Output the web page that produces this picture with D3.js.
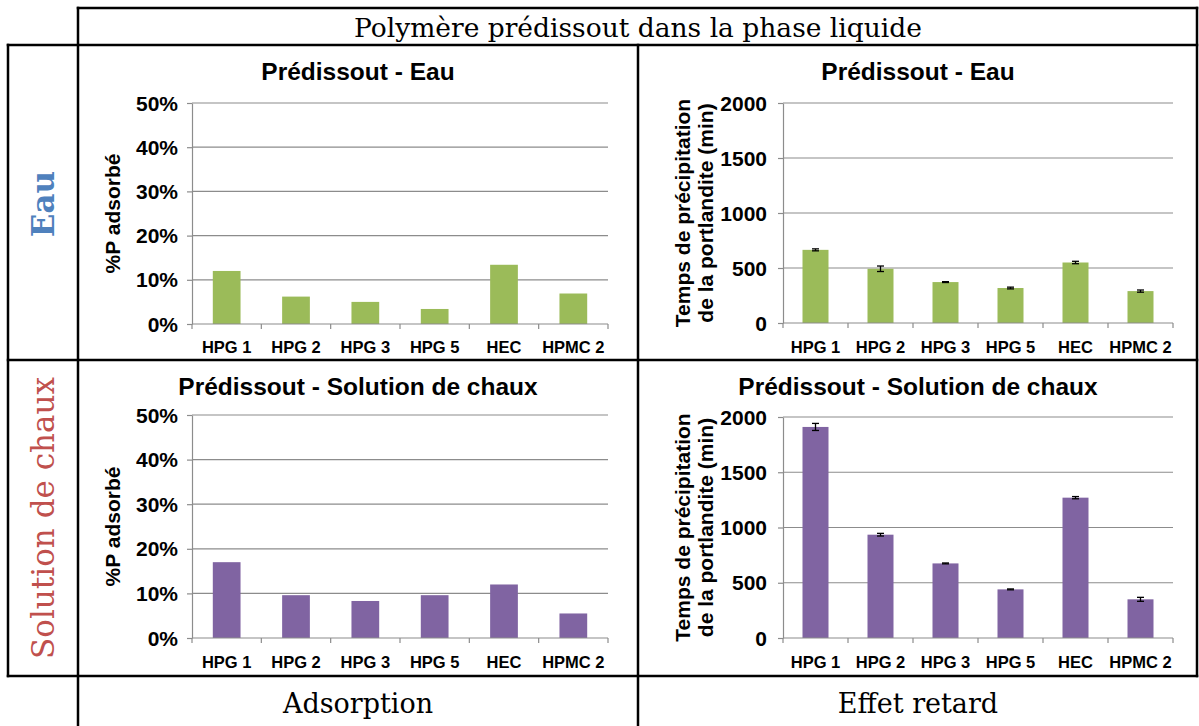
<!DOCTYPE html>
<html><head><meta charset="utf-8">
<script src="https://cdn.jsdelivr.net/npm/d3@7"></script>
<style>body{margin:0;background:#fff}svg{display:block}</style>
</head><body>
<svg id="c" width="1199" height="726"></svg>
<script>
const categories = ["HPG 1","HPG 2","HPG 3","HPG 5","HEC","HPMC 2"];
const adsorptionEau = [0.120,0.062,0.050,0.034,0.134,0.069];
const adsorptionChaux = [0.170,0.096,0.083,0.096,0.120,0.055];
const retardEau = [665,493,372,318,550,290];
const retardEauErr = [9,25,4,8,11,10];
const retardChaux = [1910,935,675,440,1270,350];
const retardChauxErr = [32,12,4,4,10,18];
const pctTicks = [0,0.1,0.2,0.3,0.4,0.5];
const minTicks = [0,500,1000,1500,2000];
const headerText = "Polymère prédissout dans la phase liquide";
const rowLabels = ["Eau","Solution de chaux"];
const colLabels = ["Adsorption","Effet retard"];

const svg = d3.select("#c");
const SANS = "'Liberation Sans', Arial, sans-serif";
const SERIF = "'DejaVu Serif', serif";
const green = "#9BBB59", purple = "#8064A2", grid = "#8c8c8c";

const panels = [
  {l:192,r:608,t:103,b:324,ty:80,vals:adsorptionEau,err:null,dom:[0,0.5],ticks:pctTicks,fmt:d3.format(".0%"),color:green,title:"Prédissout - Eau",ylab:["%P adsorbé"],ylx:[120],lx:178,xly:353},
  {l:783,r:1173,t:103,b:323,ty:80,vals:retardEau,err:retardEauErr,dom:[0,2000],ticks:minTicks,fmt:d3.format("d"),color:green,title:"Prédissout - Eau",ylab:["Temps de précipitation","de la portlandite (min)"],ylx:[690,713],lx:767,xly:353},
  {l:192,r:608,t:415,b:638,ty:395,vals:adsorptionChaux,err:null,dom:[0,0.5],ticks:pctTicks,fmt:d3.format(".0%"),color:purple,title:"Prédissout - Solution de chaux",ylab:["%P adsorbé"],ylx:[120],lx:178,xly:668},
  {l:783,r:1173,t:417,b:638,ty:395,vals:retardChaux,err:retardChauxErr,dom:[0,2000],ticks:minTicks,fmt:d3.format("d"),color:purple,title:"Prédissout - Solution de chaux",ylab:["Temps de précipitation","de la portlandite (min)"],ylx:[690,713],lx:767,xly:668}
];

panels.forEach(p=>{
  const g = svg.append("g");
  const x = d3.scaleBand().domain(categories).range([p.l,p.r]).paddingInner(0.6).paddingOuter(0.3);
  const xb = d3.scaleBand().domain(categories).range([p.l,p.r]);
  const y = d3.scaleLinear().domain(p.dom).range([p.b,p.t]);
  g.selectAll(".gl").data(p.ticks.slice(1)).join("line")
    .attr("x1",p.l).attr("x2",p.r).attr("y1",d=>y(d)).attr("y2",d=>y(d))
    .attr("stroke",grid).attr("stroke-width",1.2);
  g.selectAll(".bar").data(p.vals).join("rect")
    .attr("x",(d,i)=>x(categories[i])).attr("width",x.bandwidth())
    .attr("y",d=>y(d)).attr("height",d=>y(0)-y(d)).attr("fill",p.color);
  if(p.err){
    p.vals.forEach((v,i)=>{
      const cx = x(categories[i])+x.bandwidth()/2, e=p.err[i];
      g.append("line").attr("x1",cx).attr("x2",cx).attr("y1",y(v+e)).attr("y2",y(v-e)).attr("stroke","#000").attr("stroke-width",1.3);
      [v+e,v-e].forEach(w=>g.append("line").attr("x1",cx-3.5).attr("x2",cx+3.5).attr("y1",y(w)).attr("y2",y(w)).attr("stroke","#000").attr("stroke-width",1.3));
    });
  }
  const ya = g.append("g").attr("transform",`translate(${p.l},0)`)
    .call(d3.axisLeft(y).tickValues(p.ticks).tickFormat("").tickSize(5).tickSizeOuter(0));
  ya.select(".domain").attr("stroke",grid).attr("stroke-width",1.2);
  ya.selectAll(".tick line").attr("stroke",grid).attr("stroke-width",1.2);
  g.selectAll(".yl").data(p.ticks).join("text")
    .attr("x",p.lx).attr("y",d=>y(d)).attr("dy","0.36em").attr("text-anchor","end")
    .attr("font-family",SANS).attr("font-weight","bold").attr("font-size",21).text(p.fmt);
  g.append("line").attr("x1",p.l).attr("x2",p.r).attr("y1",p.b).attr("y2",p.b).attr("stroke",grid).attr("stroke-width",1.2);
  g.selectAll(".xt").data(categories.concat(["__end"])).join("line")
    .attr("x1",(d,i)=>i<categories.length?xb(d):p.r).attr("x2",(d,i)=>i<categories.length?xb(d):p.r)
    .attr("y1",p.b).attr("y2",p.b+5).attr("stroke",grid).attr("stroke-width",1.2);
  g.selectAll(".xl").data(categories).join("text")
    .attr("x",d=>xb(d)+xb.bandwidth()/2).attr("y",p.xly).attr("text-anchor","middle")
    .attr("font-family",SANS).attr("font-weight","bold").attr("font-size",16.5).text(d=>d);
  g.append("text").attr("x",(p.l+p.r)/2 - (p.l>700? 60:42)).attr("y",p.ty).attr("text-anchor","middle")
    .attr("font-family",SANS).attr("font-weight","bold").attr("font-size",24.5).text(p.title);
  p.ylab.forEach((t,i)=>{
    g.append("text").attr("transform",`translate(${p.ylx[i]},${(p.t+p.b)/2}) rotate(-90)`)
      .attr("text-anchor","middle").attr("font-family",SANS).attr("font-weight","bold")
      .attr("font-size",p.ylab.length>1?21:21).text(t);
  });
});

svg.append("text").attr("x",638).attr("y",37).attr("text-anchor","middle")
  .attr("font-family",SERIF).attr("font-size",26.5).text(headerText);
svg.append("text").attr("transform","translate(54,204) rotate(-90)").attr("text-anchor","middle")
  .attr("font-family",SERIF).attr("font-weight","bold").attr("font-size",31).attr("fill","#4F81BD").text(rowLabels[0]);
svg.append("text").attr("transform","translate(54,518) rotate(-90)").attr("text-anchor","middle")
  .attr("font-family",SERIF).attr("font-size",31).attr("fill","#C0504D").text(rowLabels[1]);
svg.append("text").attr("x",358).attr("y",713).attr("text-anchor","middle")
  .attr("font-family",SERIF).attr("font-size",27).text(colLabels[0]);
svg.append("text").attr("x",918).attr("y",713).attr("text-anchor","middle")
  .attr("font-family",SERIF).attr("font-size",27).text(colLabels[1]);

const tl = [
  [78,8,1197,8],[8,45,1197,45],[8,360,1197,360],[8,676,1197,676],
  [8,45,8,676],[78,8,78,726],[638,45,638,726],[1197,8,1197,676]
];
svg.selectAll(".tl").data(tl).join("line")
  .attr("x1",d=>d[0]).attr("y1",d=>d[1]).attr("x2",d=>d[2]).attr("y2",d=>d[3])
  .attr("stroke","#000").attr("stroke-width",2.5).attr("stroke-linecap","square");
</script>
</body></html>
